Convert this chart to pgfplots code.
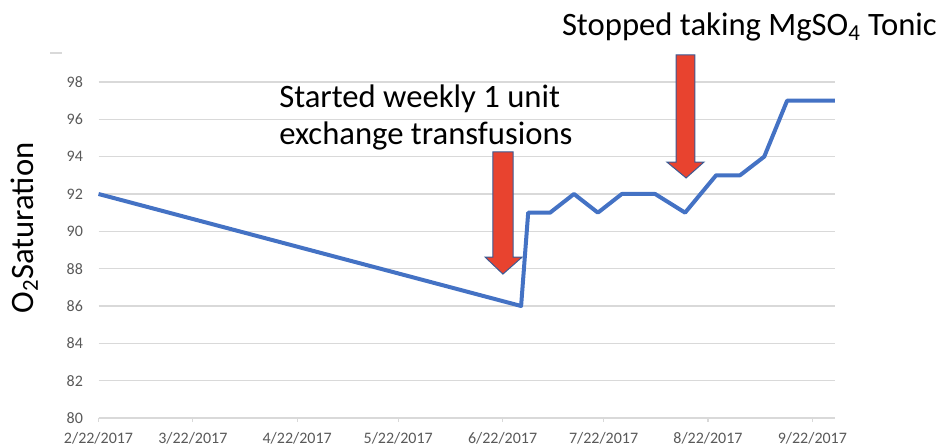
\documentclass[border=0pt]{standalone}
\usepackage{pgfplots}
\pgfplotsset{compat=1.18}
\usepackage{fontspec}
\setmainfont{Carlito}
\definecolor{linec}{HTML}{4472C4}
\definecolor{gridc}{HTML}{D9D9D9}
\definecolor{tickc}{HTML}{595959}
\definecolor{arrowf}{HTML}{E8432F}
\definecolor{arrowd}{HTML}{3A5A94}
\begin{document}
\begin{tikzpicture}
\path[use as bounding box] (0pt,0pt) rectangle (705pt,334.5pt);
\begin{axis}[
  at={(73.9pt,21pt)}, anchor=south west,
  scale only axis, width=552.3pt, height=252pt,
  xmin=0, xmax=218.7, ymin=80, ymax=98,
  clip=false,
  axis x line*=bottom, axis y line*=left,
  x axis line style={draw=gridc, line width=0.9pt},
  y axis line style={draw=none},
  xtick={0,28,59,89,120,150,181,212},
  xticklabels={2/22/2017,3/22/2017,4/22/2017,5/22/2017,6/22/2017,7/22/2017,8/22/2017,9/22/2017},
  ytick={80,82,...,98},
  xtick align=outside,
  major tick length=3pt,
  x tick style={draw=gridc, line width=0.9pt},
  y tick style={draw=none},
  ymajorgrids, grid style={draw=gridc, line width=0.9pt},
  tick label style={font=\fontsize{12}{14}\selectfont, text=tickc, inner sep=0pt},
  xticklabel style={anchor=north, yshift=-7.5pt},
  yticklabel style={anchor=east, xshift=-11.5pt},
  /pgf/number format/assume math mode=true,
]
\addplot[color=linec, line width=3pt, line join=round] coordinates {
(0,92) (125.5,86) (127.6,91) (134.1,91) (141.2,92) (148.3,91) (155.4,92)
(165.3,92) (174.2,91) (183.4,93) (190.5,93) (197.7,94) (204.5,97) (218.7,97)
};
\draw[fill=arrowf, draw=arrowd, line width=0.75pt, line join=miter]
 (axis cs:117.1,94.25) -- (axis cs:123.1,94.25) -- (axis cs:123.1,88.62) -- (axis cs:125.8,88.62)
 -- (axis cs:120.1,87.71) -- (axis cs:114.8,88.62) -- (axis cs:117.1,88.62) -- cycle;
\draw[fill=arrowf, draw=arrowd, line width=0.75pt, line join=miter]
 (axis cs:171.5,99.45) -- (axis cs:177.1,99.45) -- (axis cs:177.1,93.71) -- (axis cs:179.8,93.71)
 -- (axis cs:174.5,92.86) -- (axis cs:168.8,93.71) -- (axis cs:171.5,93.71) -- cycle;
\end{axis}
\node[rotate=90, anchor=base, inner sep=0pt, font=\fontsize{24.5}{29}\selectfont] at (24.75pt,163.5pt) {O\textsubscript{2}Saturation};
\node[anchor=base west, inner sep=0pt, font=\fontsize{24.5}{29}\selectfont] at (209.25pt,254pt) {Started weekly 1 unit};
\node[anchor=base west, inner sep=0pt, font=\fontsize{24.5}{29}\selectfont] at (209.25pt,225.75pt) {exchange transfusions};
\node[anchor=base west, inner sep=0pt, font=\fontsize{24.5}{29}\selectfont] at (421.3pt,307.5pt) {Stopped taking MgSO\textsubscript{4} Tonic};
\draw[gridc, line width=0.9pt] (37.5pt,294.75pt) -- (46.5pt,294.75pt);
\end{tikzpicture}
\end{document}
